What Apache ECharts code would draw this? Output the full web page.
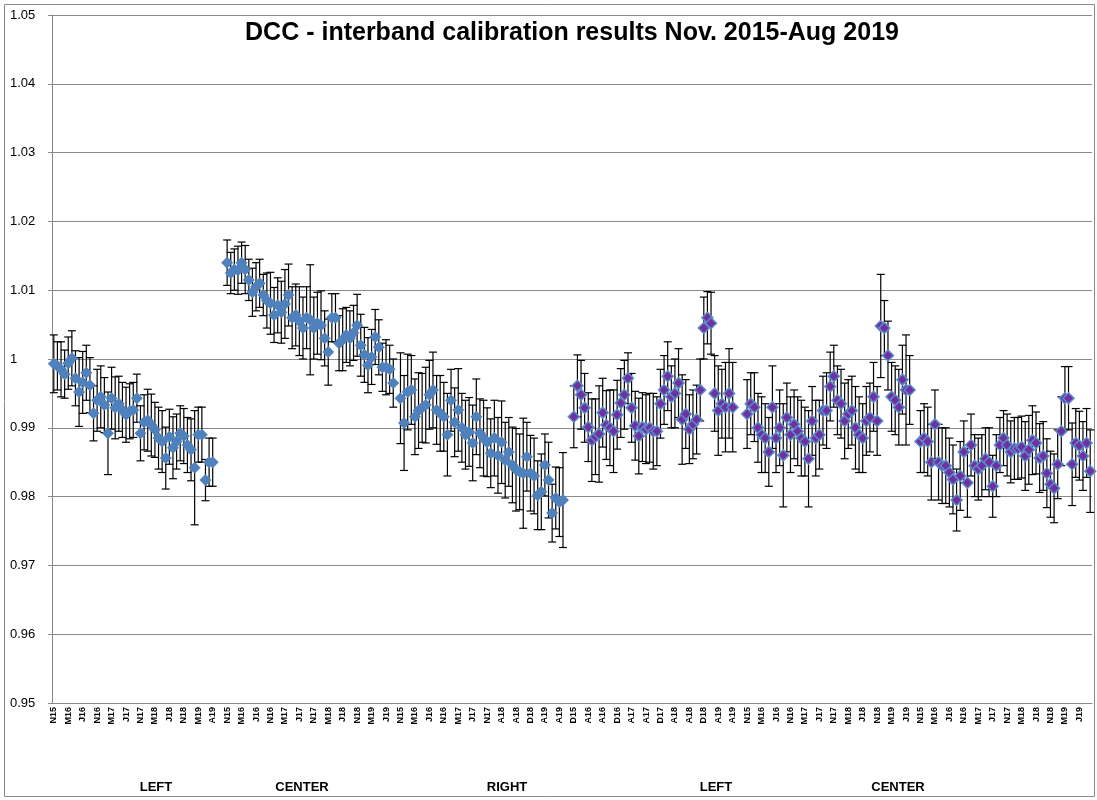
<!DOCTYPE html>
<html>
<head>
<meta charset="utf-8">
<script src="https://cdn.jsdelivr.net/npm/echarts@6/dist/echarts.min.js"></script>
<style>
  html, body { margin: 0; padding: 0; background: #fff; }
  #chart { width: 1097px; height: 800px; }
</style>
</head>
<body>
<div id="chart"></div>
<script>
// tick labels, one every 4 categories (48 categories per group)
var tickLabels = [
  "N15","M16","J16","N16","M17","J17","N17","M18","J18","N18","M19","A19",
  "N15","M16","J16","N16","M17","J17","N17","M18","J18","N18","M19","J19",
  "N15","M16","J16","N16","M17","J17","N17","A18","A18","D18","A19","A19",
  "D15","A16","A16","D16","A17","A17","D17","A18","A18","D18","A19","A19",
  "N15","M16","J16","N16","M17","J17","N17","M18","J18","N18","M19","J19",
  "N15","M16","J16","N16","M17","J17","N17","M18","J18","N18","M19","J19"
];
var groupNames = ["LEFT", "CENTER", "RIGHT", "LEFT", "CENTER"];
var groupLabelX = [156, 302, 507, 716, 898];

// LEFT (blue)
var leftA = [0.9993,0.9990,0.9985,0.9978,0.9994,1.0001,0.9972,0.9952,0.9966,0.9980,
  0.9962,0.9921,0.9940,0.9945,0.9933,0.9892,0.9943,0.9929,0.9935,0.9926,
  0.9919,0.9924,0.9926,0.9943,0.9892,0.9908,0.9911,0.9904,0.9897,0.9885,
  0.9880,0.9856,0.9887,0.9871,0.9880,0.9892,0.9888,0.9875,0.9868,0.9842,
  0.9890,0.9890,0.9824,0.9850,0.9850,null,null,null];
var leftAErr = [0.0042,0.0035,0.0040,0.0035,0.0038,0.0040,0.0040,0.0050,0.0045,0.0040,
  0.0040,0.0040,0.0045,0.0045,0.0040,0.0060,0.0045,0.0045,0.0040,0.0040,
  0.0040,0.0040,0.0040,0.0035,0.0040,0.0040,0.0045,0.0045,0.0040,0.0045,
  0.0045,0.0045,0.0040,0.0045,0.0040,0.0040,0.0040,0.0040,0.0045,0.0083,
  0.0040,0.0040,0.0030,0.0035,0.0035,null,null,null];

// CENTER (blue)
var centerA = [1.0140,1.0125,1.0130,1.0129,1.0140,1.0130,1.0115,1.0097,1.0105,1.0110,
  1.0093,1.0085,1.0081,1.0064,1.0078,1.0068,1.0080,1.0093,1.0060,1.0064,
  1.0055,1.0045,1.0060,1.0057,1.0045,1.0052,1.0049,1.0030,1.0010,1.0060,
  1.0060,1.0023,1.0028,1.0035,1.0030,1.0038,1.0049,1.0020,1.0006,0.9991,
  1.0003,1.0032,1.0017,0.9988,0.9988,0.9985,0.9965,null];
var centerAErr = [0.0033,0.0030,0.0030,0.0035,0.0030,0.0035,0.0030,0.0035,0.0035,0.0035,
  0.0030,0.0040,0.0045,0.0040,0.0040,0.0045,0.0050,0.0045,0.0045,0.0045,
  0.0050,0.0045,0.0045,0.0080,0.0045,0.0045,0.0050,0.0040,0.0048,0.0035,
  0.0035,0.0040,0.0045,0.0040,0.0040,0.0040,0.0045,0.0045,0.0040,0.0040,
  0.0040,0.0040,0.0040,0.0035,0.0040,0.0035,0.0035,null];

// RIGHT (blue)
var rightA = [0.9943,0.9907,0.9952,0.9955,0.9916,0.9925,0.9929,0.9933,0.9948,0.9955,
  0.9926,0.9921,0.9916,0.9890,0.9940,0.9908,0.9926,0.9900,0.9890,0.9894,
  0.9878,0.9916,0.9892,0.9885,0.9879,0.9863,0.9885,0.9860,0.9879,0.9853,
  0.9865,0.9846,0.9839,0.9836,0.9834,0.9858,0.9834,0.9830,0.9802,0.9807,
  0.9846,0.9824,0.9776,0.9798,0.9792,0.9795,null,null];
var rightAErr = [0.0066,0.0069,0.0055,0.0050,0.0055,0.0055,0.0050,0.0055,0.0050,0.0055,
  0.0050,0.0055,0.0050,0.0060,0.0045,0.0050,0.0060,0.0050,0.0050,0.0050,
  0.0055,0.0055,0.0050,0.0055,0.0050,0.0050,0.0055,0.0055,0.0060,0.0055,
  0.0050,0.0055,0.0060,0.0055,0.0080,0.0050,0.0055,0.0055,0.0050,0.0055,
  0.0045,0.0055,0.0042,0.0045,0.0050,0.0069,null,null];

// LEFT (purple)
var leftB = [0.9916,0.9961,0.9948,0.9929,0.9901,0.9882,0.9887,0.9891,0.9922,0.9904,
  0.9900,0.9895,0.9919,0.9936,0.9948,0.9972,0.9929,0.9903,0.9888,0.9901,
  0.9898,0.9900,0.9895,0.9895,0.9935,0.9955,0.9975,0.9945,0.9950,0.9965,
  0.9912,0.9920,0.9898,0.9905,0.9912,0.9955,1.0045,1.0060,1.0052,0.9950,
  0.9925,0.9935,0.9930,0.9950,0.9930,null,null,null];
var leftBErr = [0.0045,0.0045,0.0050,0.0050,0.0050,0.0060,0.0055,0.0070,0.0050,0.0050,
  0.0055,0.0060,0.0050,0.0050,0.0050,0.0037,0.0050,0.0050,0.0055,0.0050,
  0.0050,0.0050,0.0055,0.0050,0.0050,0.0050,0.0050,0.0045,0.0050,0.0050,
  0.0065,0.0050,0.0050,0.0050,0.0050,0.0045,0.0045,0.0038,0.0045,0.0055,
  0.0065,0.0050,0.0065,0.0065,0.0065,null,null,null];

// CENTER (purple)
var centerB = [0.9920,0.9935,0.9930,0.9900,0.9890,0.9885,0.9865,0.9930,0.9885,0.9900,
  0.9860,0.9915,0.9890,0.9905,0.9895,0.9885,0.9880,0.9855,0.9910,0.9885,
  0.9890,0.9925,0.9925,0.9960,0.9975,0.9940,0.9935,0.9910,0.9920,0.9925,
  0.9900,0.9890,0.9885,0.9910,0.9915,0.9945,0.9910,1.0048,1.0045,1.0005,
  0.9945,0.9940,0.9930,0.9970,0.9955,0.9955,null,null];
var centerBErr = [0.0050,0.0045,0.0050,0.0050,0.0055,0.0050,0.0050,0.0060,0.0050,0.0055,
  0.0075,0.0050,0.0055,0.0050,0.0050,0.0055,0.0050,0.0070,0.0050,0.0055,
  0.0050,0.0050,0.0055,0.0050,0.0045,0.0050,0.0050,0.0055,0.0050,0.0050,
  0.0060,0.0055,0.0050,0.0050,0.0050,0.0050,0.0050,0.0075,0.0040,0.0050,
  0.0050,0.0050,0.0055,0.0050,0.0080,0.0050,null,null];

// RIGHT (purple)
var rightB = [0.9880,0.9885,0.9880,0.9850,0.9905,0.9850,0.9845,0.9845,0.9835,0.9825,
  0.9795,0.9830,0.9865,0.9820,0.9875,0.9845,0.9840,0.9845,0.9855,0.9850,
  0.9815,0.9845,0.9875,0.9885,0.9875,0.9865,0.9870,0.9870,0.9872,0.9859,
  0.9868,0.9882,0.9878,0.9856,0.9859,0.9834,0.9818,0.9812,0.9847,0.9895,
  0.9943,0.9943,0.9847,0.9878,0.9874,0.9859,0.9878,0.9837];
var rightBErr = [0.0045,0.0050,0.0050,0.0055,0.0050,0.0055,0.0055,0.0055,0.0050,0.0050,
  0.0045,0.0050,0.0045,0.0050,0.0045,0.0045,0.0045,0.0045,0.0045,0.0050,
  0.0045,0.0045,0.0040,0.0040,0.0045,0.0045,0.0045,0.0045,0.0045,0.0050,
  0.0050,0.0050,0.0045,0.0050,0.0050,0.0050,0.0048,0.0050,0.0050,0.0050,
  0.0046,0.0046,0.0060,0.0050,0.0050,0.0050,0.0050,0.0060];

var PER_GROUP = 48;
var blueGroups = [[leftA, leftAErr], [centerA, centerAErr], [rightA, rightAErr]];
var purpleGroups = [[leftB, leftBErr], [centerB, centerBErr], [rightB, rightBErr]];

var cats = [];
for (var i = 0; i < tickLabels.length * 4; i++) cats.push(String(i));

function buildPoints(groups, offset) {
  var pts = [], bars = [];
  groups.forEach(function (g, gi) {
    var base = (offset + gi) * PER_GROUP;
    g[0].forEach(function (v, j) {
      if (v == null) return;
      pts.push([base + j, v]);
      bars.push([base + j, v - g[1][j], v + g[1][j]]);
    });
  });
  return { pts: pts, bars: bars };
}
var blue = buildPoints(blueGroups, 0);
var purple = buildPoints(purpleGroups, 3);

// error bar with caps, drawn through the axes
function renderErr(params, api) {
  var x = api.value(0);
  var lo = api.coord([x, api.value(1)]);
  var hi = api.coord([x, api.value(2)]);
  var cap = 4;
  var st = { stroke: '#000', lineWidth: 1.2 };
  return {
    type: 'group',
    children: [
      { type: 'line', shape: { x1: hi[0], y1: hi[1], x2: lo[0], y2: lo[1] }, style: st },
      { type: 'line', shape: { x1: hi[0] - cap, y1: hi[1], x2: hi[0] + cap, y2: hi[1] }, style: st },
      { type: 'line', shape: { x1: lo[0] - cap, y1: lo[1], x2: lo[0] + cap, y2: lo[1] }, style: st }
    ]
  };
}

var chart = echarts.init(document.getElementById('chart'));
var gridColor = '#8a8a8a';

var graphics = [
  { type: 'rect', shape: { x: 4.5, y: 4.5, width: 1090, height: 792 },
    style: { fill: 'none', stroke: '#8a8a8a', lineWidth: 1 }, silent: true },
  { type: 'text', x: 572, y: 33,
    style: { text: 'DCC - interband calibration results Nov. 2015-Aug 2019',
      font: 'bold 25px "Liberation Sans", Arial, sans-serif', fill: '#000',
      textAlign: 'center', textVerticalAlign: 'middle' } }
];
groupNames.forEach(function (n, i) {
  graphics.push({ type: 'text', x: groupLabelX[i], y: 787,
    style: { text: n, font: 'bold 13px "Liberation Sans", Arial, sans-serif', fill: '#000',
      textAlign: 'center', textVerticalAlign: 'middle' } });
});

var option = {
  animation: false,
  backgroundColor: '#fff',
  grid: { left: 52, right: 5, top: 15, bottom: 97 },
  xAxis: {
    type: 'category',
    data: cats,
    boundaryGap: true,
    axisLine: { lineStyle: { color: gridColor, width: 1 } },
    axisTick: { show: false },
    axisLabel: {
      interval: 3,
      rotate: 90,
      margin: 4,
      fontSize: 9,
      fontWeight: 'bold',
      fontFamily: '"Liberation Sans", Arial, sans-serif',
      color: '#000',
      formatter: function (v, idx) { return tickLabels[Math.floor(idx / 4)]; }
    },
    splitLine: { show: false }
  },
  yAxis: {
    type: 'value',
    min: 0.95,
    max: 1.05,
    interval: 0.01,
    axisLine: { show: true, lineStyle: { color: gridColor, width: 1 } },
    axisTick: { show: true, length: 4, lineStyle: { color: gridColor } },
    axisLabel: {
      align: 'left',
      margin: 42,
      fontSize: 13,
      fontFamily: '"Liberation Sans", Arial, sans-serif',
      color: '#000',
      formatter: function (v) { return String(Math.round(v * 100) / 100); }
    },
    splitLine: { lineStyle: { color: gridColor, width: 1 } }
  },
  graphic: graphics,
  series: [
    { type: 'custom', renderItem: renderErr, data: blue.bars,
      encode: { x: 0, y: [1, 2] }, z: 2, silent: true },
    { type: 'custom', renderItem: renderErr, data: purple.bars,
      encode: { x: 0, y: [1, 2] }, z: 2, silent: true },
    { type: 'scatter', data: blue.pts, symbol: 'diamond', symbolSize: 12,
      itemStyle: { color: '#4F81BD', opacity: 1 }, z: 3 },
    { type: 'scatter', data: purple.pts, symbol: 'diamond', symbolSize: 11,
      itemStyle: { color: '#7030A0', borderColor: '#5B8BCB', borderWidth: 1.5, opacity: 1 }, z: 3 }
  ]
};
chart.setOption(option);
</script>
</body>
</html>
